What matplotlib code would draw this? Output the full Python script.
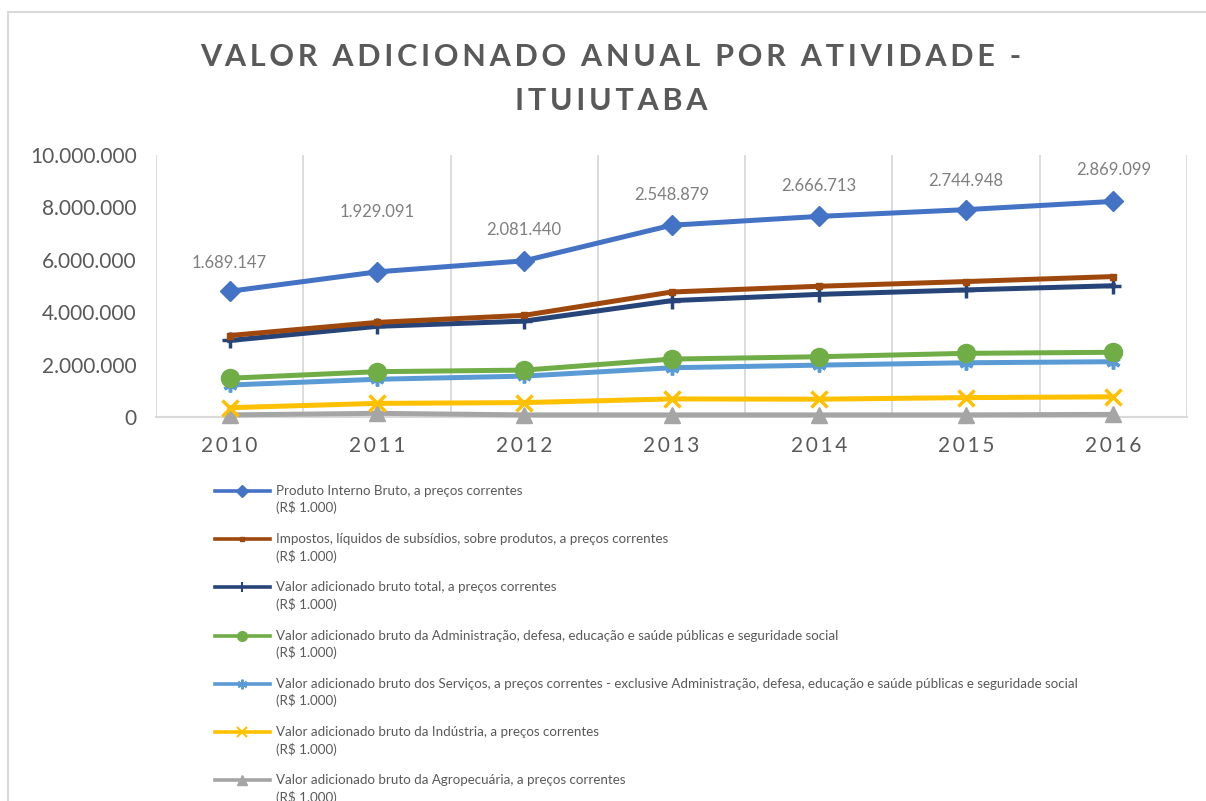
import numpy as np
import matplotlib
matplotlib.use('Agg')
import matplotlib.pyplot as plt
from matplotlib.lines import Line2D
from matplotlib.ticker import FuncFormatter

W, H = 1206, 801

years = ['2010', '2011', '2012', '2013', '2014', '2015', '2016']

series_names = [
    'Produto Interno Bruto, a preços correntes',
    'Impostos, líquidos de subsídios, sobre produtos, a preços correntes',
    'Valor adicionado bruto total, a preços correntes',
    'Valor adicionado bruto da Administração, defesa, educação e saúde públicas e seguridade social',
    'Valor adicionado bruto dos Serviços, a preços correntes - exclusive Administração, defesa, educação e saúde públicas e seguridade social',
    'Valor adicionado bruto da Indústria, a preços correntes',
    'Valor adicionado bruto da Agropecuária, a preços correntes',
]
unit_label = '(R$ 1.000)'

# valores em R$ 1.000 (grafico de linhas empilhadas)
pib = [1689147, 1929091, 2081440, 2548879, 2666713, 2744948, 2869099]
impostos = [190000, 150000, 220000, 330000, 310000, 320000, 350000]
vab_total = [1440000, 1730000, 1870000, 2230000, 2380000, 2420000, 2540000]
administracao = [260000, 290000, 230000, 330000, 320000, 360000, 360000]
servicos = [865000, 920000, 1010000, 1190000, 1300000, 1330000, 1340000]
industria = [275000, 380000, 470000, 610000, 600000, 660000, 670000]
agropecuaria = [80000, 140000, 80000, 80000, 80000, 80000, 100000]

colors = ['#4472C4', '#9E480E', '#264478', '#70AD47', '#5B9BD5', '#FFC000', '#A5A5A5']
markers = ['D', 's', '+', 'o', (6, 2, 0), 'x', '^']
msizes = [10, 5, 11, 13, 10, 12, 12]
msizes_leg = [6, 3, 7, 7, 7, 7, 7]

# deslocamento (px) dos rotulos acima dos pontos do PIB
label_dy = [28, 60, 31, 30, 30, 29, 31]


def fmt_br(v, pos=None):
    return '{:,.0f}'.format(v).replace(',', '.')


def spaced(s, sep='\u200a'):
    return sep.join(s)


values = np.array([pib, impostos, vab_total, administracao, servicos, industria, agropecuaria], dtype=float)
stacked = np.cumsum(values[::-1], axis=0)[::-1]

fig = plt.figure(figsize=(W / 100, H / 100), dpi=100)
fig.patch.set_facecolor('white')
plt.rcParams['font.family'] = ['Lato', 'DejaVu Sans']

# moldura do grafico
fig.add_artist(Line2D([8 / W, 1], [1 - 12 / H] * 2, transform=fig.transFigure, color='#d9d9d9', lw=1.5))
fig.add_artist(Line2D([8 / W] * 2, [0, 1 - 12 / H], transform=fig.transFigure, color='#d9d9d9', lw=1.5))

ax = fig.add_axes([156 / W, 1 - 417 / H, (1187 - 156) / W, (417 - 155) / H])
x = np.arange(len(years))

for i in range(len(series_names)):
    ax.plot(x, stacked[i], color=colors[i], lw=3.6, marker=markers[i], ms=msizes[i],
            mew=2.5 if markers[i] in ('+', 'x', (6, 2, 0)) else 1,
            mec=colors[i], mfc=colors[i], clip_on=False, zorder=3 + (7 - i) * 0.1)

for j in range(len(years)):
    ax.annotate(fmt_br(pib[j]), (x[j], stacked[0][j]), xytext=(0, label_dy[j]),
                textcoords='offset pixels', ha='center', va='center',
                fontsize=12, color='#7f7f7f')

ax.set_xlim(-0.5, len(years) - 0.5)
ax.set_ylim(0, 10000000)
ax.set_yticks(np.arange(0, 10000001, 2000000))
ax.yaxis.set_major_formatter(FuncFormatter(fmt_br))
ax.set_xticks(x)
ax.set_xticklabels([spaced(y, '\u2009') for y in years])
ax.set_xticks(np.arange(-0.5, len(years)), minor=True)
ax.xaxis.grid(True, which='minor', color='#d9d9d9', lw=1.3)
ax.tick_params(which='both', length=0)
ax.tick_params(axis='y', labelsize=15, labelcolor='#595959', pad=14)
ax.tick_params(axis='x', labelsize=15, labelcolor='#595959', pad=14)
for s in ['top', 'right', 'left']:
    ax.spines[s].set_visible(False)
ax.spines['bottom'].set_color('#d9d9d9')
ax.spines['bottom'].set_linewidth(1.5)

# titulo
fig.text(611 / W, 1 - 57 / H, spaced('VALOR ADICIONADO ANUAL POR ATIVIDADE -', '\u200a\u200a'),
         ha='center', va='center', fontsize=22, fontweight='bold', color='#595959')
fig.text(611 / W, 1 - 101 / H, spaced('ITUIUTABA', '\u200a\u200a'), ha='center', va='center',
         fontsize=22, fontweight='bold', color='#595959')

# legenda
for i, name in enumerate(series_names):
    yy = 1 - (491 + 48.2 * i) / H
    fig.add_artist(Line2D([215 / W, 242 / W, 270 / W], [yy] * 3, transform=fig.transFigure,
                          color=colors[i], lw=2.6, marker=markers[i], ms=msizes_leg[i],
                          mew=1.5 if markers[i] in ('+', 'x', (6, 2, 0)) else 1,
                          markevery=[1]))
    fig.text(276 / W, yy, name, ha='left', va='center', fontsize=9.6, color='#595959')
    fig.text(276 / W, yy - 17 / H, unit_label, ha='left', va='center', fontsize=9.6, color='#595959')

fig.savefig('out.png', dpi=100)
